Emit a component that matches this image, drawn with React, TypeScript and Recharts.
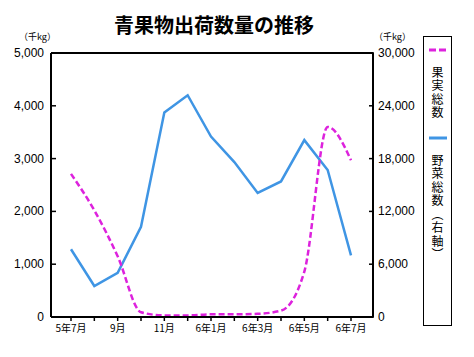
import { LineChart, Line, XAxis, YAxis, ReferenceLine } from "recharts";

const months = ["5年7月", "5年8月", "5年9月", "5年10月", "5年11月", "5年12月", "6年1月", "6年2月", "6年3月", "6年4月", "6年5月", "6年6月", "6年7月"];
const tickLabels = ["5年7月", "", "9月", "", "11月", "", "6年1月", "", "6年3月", "", "6年5月", "", "6年7月"];
const fruit = [2710, 2020, 1150, 90, 30, 30, 50, 50, 60, 120, 860, 3600, 2970];
const vegetables = [7700, 3520, 5030, 10250, 23250, 25200, 20500, 17600, 14100, 15400, 20100, 16700, 7000];
const leftTicks = [0, 1000, 2000, 3000, 4000, 5000];
const rightTicks = [0, 6000, 12000, 18000, 24000, 30000];

const data = months.map((m, i) => ({ month: m, fruit: fruit[i], veg: vegetables[i] }));

const FRUIT = "#dd22dd";
const VEG = "#3f95e4";
const JP = "'Noto Sans CJK JP', sans-serif";
const fmt = (v: number) => v.toLocaleString("en-US");

// ticks on the y axes point into the plot
const LeftTick = (p: any) => (
  <g>
    <line x1={p.x + 7} x2={p.x + 12} y1={p.y} y2={p.y} stroke="#000" strokeWidth={1.5} />
    <text x={p.x} y={p.y} dy={4} textAnchor="end" fontSize={12} fontFamily="'Liberation Sans', Arial" fill="#000">
      {fmt(p.payload.value)}
    </text>
  </g>
);

const RightTick = (p: any) => (
  <g>
    <line x1={p.x - 9} x2={p.x - 4} y1={p.y} y2={p.y} stroke="#000" strokeWidth={1.5} />
    <text x={p.x} y={p.y} dy={4} textAnchor="start" fontSize={12} fontFamily="'Liberation Sans', Arial" fill="#000">
      {fmt(p.payload.value)}
    </text>
  </g>
);

const vText = {
  position: "absolute" as const,
  left: 6,
  writingMode: "vertical-rl" as const,
  textOrientation: "upright" as const,
  fontFamily: JP,
  fontSize: 12,
  lineHeight: "14px",
  letterSpacing: 1.5,
};

export default function App() {
  return (
    <div style={{ position: "absolute", left: 0, top: 0, width: 474, height: 357, background: "#fff" }}>
      <LineChart width={474} height={357} data={data} margin={{ top: 53, right: 51, left: 0, bottom: 0 }}>
        <XAxis
          dataKey="month"
          height={40}
          interval={0}
          padding={{ left: 20, right: 22 }}
          stroke="#000"
          axisLine={{ strokeWidth: 2 }}
          tickSize={4}
          tickMargin={4}
          tickLine={{ stroke: "#000", strokeWidth: 1.5 }}
          tick={{ fontSize: 10, fill: "#000", fontFamily: JP }}
          tickFormatter={(_: string, i: number) => tickLabels[i]}
        />
        <YAxis
          yAxisId="left"
          width={51}
          domain={[0, 5000]}
          ticks={leftTicks}
          stroke="#000"
          axisLine={{ strokeWidth: 2 }}
          tickLine={false}
          tickSize={0}
          tickMargin={7}
          tick={<LeftTick />}
        />
        <YAxis
          yAxisId="right"
          orientation="right"
          width={50}
          domain={[0, 30000]}
          ticks={rightTicks}
          stroke="#000"
          axisLine={{ strokeWidth: 2 }}
          tickLine={false}
          tickSize={0}
          tickMargin={5}
          tick={<RightTick />}
        />
        <ReferenceLine yAxisId="left" y={5000} stroke="#000" strokeWidth={2} />
        <Line
          yAxisId="right"
          dataKey="veg"
          type="linear"
          stroke={VEG}
          strokeWidth={2.5}
          dot={false}
          isAnimationActive={false}
        />
        <Line
          yAxisId="left"
          dataKey="fruit"
          type="monotone"
          stroke={FRUIT}
          strokeWidth={2.5}
          strokeDasharray="6 3"
          dot={false}
          isAnimationActive={false}
        />
      </LineChart>

      <div style={{ position: "absolute", left: 0, width: 428, top: 10, textAlign: "center", fontFamily: JP, fontWeight: 700, fontSize: 20, lineHeight: "30px" }}>
        青果物出荷数量の推移
      </div>
      <div style={{ position: "absolute", left: 19, top: 30, fontFamily: JP, fontSize: 9 }}>（千kg）</div>
      <div style={{ position: "absolute", left: 374, top: 30, fontFamily: JP, fontSize: 9 }}>（千kg）</div>

      <div style={{ position: "absolute", left: 423, top: 36, width: 29, height: 290, border: "1px solid #000", boxSizing: "border-box" }}>
        <svg width={27} height={120} style={{ position: "absolute", left: 0, top: 0 }}>
          <line x1={5} x2={23} y1={13} y2={13} stroke={FRUIT} strokeWidth={3} strokeDasharray="7 3" />
          <line x1={5} x2={23} y1={101} y2={101} stroke={VEG} strokeWidth={3} />
        </svg>
        <div style={{ ...vText, top: 29 }}>果実総数</div>
        <div style={{ ...vText, top: 117 }}>野菜総数（右軸）</div>
      </div>
    </div>
  );
}
